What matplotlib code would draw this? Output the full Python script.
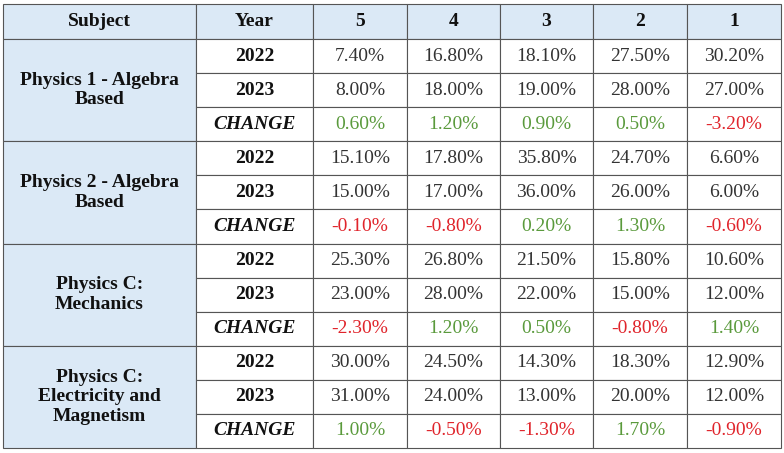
import matplotlib
matplotlib.use("Agg")
import matplotlib.pyplot as plt
from matplotlib.patches import Rectangle

plt.rcParams["font.family"] = "Liberation Serif"

subjects = ["Physics 1 - Algebra\nBased", "Physics 2 - Algebra\nBased", "Physics C:\nMechanics",
            "Physics C:\nElectricity and\nMagnetism"]
scores = ["5", "4", "3", "2", "1"]
years = ["2022", "2023", "CHANGE"]
v2022 = [[7.40, 16.80, 18.10, 27.50, 30.20], [15.10, 17.80, 35.80, 24.70, 6.60],
         [25.30, 26.80, 21.50, 15.80, 10.60], [30.00, 24.50, 14.30, 18.30, 12.90]]
v2023 = [[8.00, 18.00, 19.00, 28.00, 27.00], [15.00, 17.00, 36.00, 26.00, 6.00],
         [23.00, 28.00, 22.00, 15.00, 12.00], [31.00, 24.00, 13.00, 20.00, 12.00]]
change = [[0.60, 1.20, 0.90, 0.50, -3.20], [-0.10, -0.80, 0.20, 1.30, -0.60],
          [-2.30, 1.20, 0.50, -0.80, 1.40], [1.00, -0.50, -1.30, 1.70, -0.90]]

W, H = 784, 453
fig = plt.figure(figsize=(W/100, H/100), dpi=100)
ax = fig.add_axes([0, 0, 1, 1])
ax.set_xlim(0, W); ax.set_ylim(H, 0); ax.axis("off")

xs = [3, 196, 313, 407, 500, 593, 687, 781]
top, hh = 4, 35
rh = (448 - top - hh) / 12
blue = "#dbe9f6"
edge = "#555555"
fs = 14

def cell(x0, x1, y0, y1, fc="white"):
    ax.add_patch(Rectangle((x0, y0), x1 - x0, y1 - y0, fc=fc, ec=edge, lw=0.8))

headers = ["Subject", "Year"] + scores
for i, h in enumerate(headers):
    cell(xs[i], xs[i+1], top, top + hh, blue)
    ax.text((xs[i] + xs[i+1]) / 2, top + hh/2, h, ha="center", va="center",
            fontsize=fs, fontweight="bold", color="#111")

for s, subj in enumerate(subjects):
    y0 = top + hh + s * 3 * rh
    cell(xs[0], xs[1], y0, y0 + 3 * rh, blue)
    ax.text((xs[0] + xs[1]) / 2, y0 + 1.5 * rh, subj, ha="center", va="center",
            fontsize=fs, fontweight="bold", color="#111", linespacing=1.2)
    rows = [v2022[s], v2023[s], change[s]]
    for r in range(3):
        ry = y0 + r * rh
        cell(xs[1], xs[2], ry, ry + rh)
        ax.text((xs[1] + xs[2]) / 2, ry + rh/2, years[r], ha="center", va="center",
                fontsize=fs, fontweight="bold", style=("italic" if r == 2 else "normal"),
                color="#111")
        for c in range(5):
            cell(xs[c+2], xs[c+3], ry, ry + rh)
            v = rows[r][c]
            if r < 2:
                col = "#333333"
            else:
                col = "#5a9a3c" if v >= 0 else "#e0242b"
            ax.text((xs[c+2] + xs[c+3]) / 2, ry + rh/2, f"{v:.2f}%", ha="center",
                    va="center", fontsize=fs, color=col)

fig.savefig("out.png", dpi=100)
